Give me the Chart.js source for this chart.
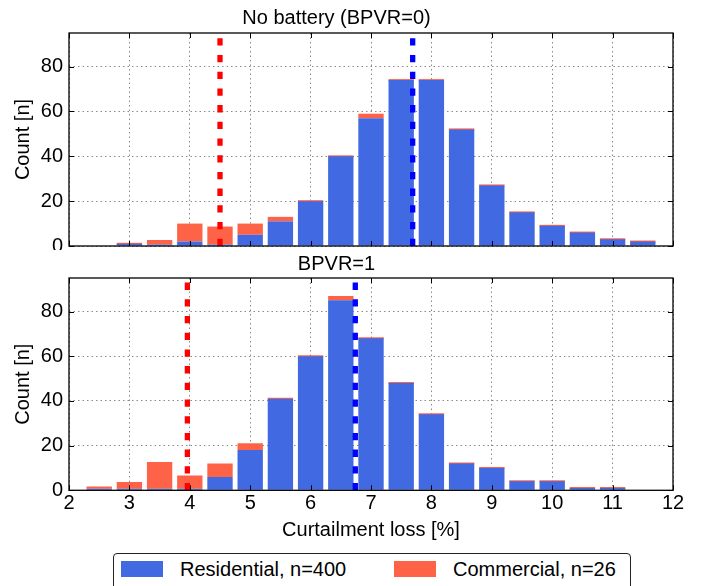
<!DOCTYPE html>
<html>
<head>
<meta charset="utf-8">
<script src="https://cdn.jsdelivr.net/npm/chart.js@4.4.1/dist/chart.umd.min.js"></script>
<style>
  body { margin: 0; background: #fff; }
  #wrap { position: relative; width: 702px; height: 586px; overflow: hidden; font-family: 'Liberation Sans', Arial, sans-serif; }
  canvas { position: absolute; left: 0; }
  #c1 { top: 0; }
  #c2 { top: 250px; }
  #legend { position: absolute; left: 113px; top: 553px; width: 516px; height: 50px; border: 1px solid #222; border-radius: 4px; background: #fff; }
  .sw { position: absolute; top: 7px; width: 42px; height: 16px; }
  .lt { position: absolute; top: 3px; font-size: 20px; line-height: 24px; color: #000; white-space: nowrap; }
</style>
</head>
<body>
<div id="wrap">
  <canvas id="c1" width="702" height="250"></canvas>
  <canvas id="c2" width="702" height="336"></canvas>
  <div id="legend">
    <span class="sw" style="left:7px;background:#4169E1"></span>
    <span class="lt" style="left:66px">Residential, n=400</span>
    <span class="sw" style="left:280px;background:#FF6347"></span>
    <span class="lt" style="left:339px">Commercial, n=26</span>
  </div>
</div>
<script>
// histogram bin centres [%]
const bins = [2.5, 3, 3.5, 4, 4.5, 5, 5.5, 6, 6.5, 7, 7.5, 8, 8.5, 9, 9.5, 10, 10.5, 11, 11.5];

// No battery (BPVR=0)
const resNoBat = [null, 1, 0, 2, 0, 5, 11, 20, 40, 57, 74, 74, 52, 27, 15, 9, 6, 3, 2];
const comNoBat = [null, 0, 2, 8, 8, 5, 2, 0, 0, 2, 0, 0, 0, 0, 0, 0, 0, 0, 0];
const meanResNoBat = 7.69;
const meanComNoBat = 4.50;

// BPVR=1
const resBat = [0, 0, 0, 0, 6, 18, 41, 60, 85, 68, 48, 34, 12, 10, 4, 4, 1, 1, null];
const comBat = [1, 3, 12, 6, 6, 3, 0, 0, 2, 0, 0, 0, 0, 0, 0, 0, 0, 0, null];
const meanResBat = 6.74;
const meanComBat = 3.96;

const xMin = 2, xMax = 12, yMax = 95;

const FONT = "'Liberation Sans', Arial, sans-serif";
const BLUE = '#4169E1';
const ORANGE = '#FF6347';

// box round the axes with inward tick marks
const framePlugin = {
    id: 'frame',
    afterDraw(chart) {
        const {ctx, chartArea: a, scales: {x, y}} = chart;
        ctx.save();
        ctx.strokeStyle = '#000';
        ctx.lineWidth = 1;
        ctx.beginPath();
        x.ticks.forEach(t => {
            const px = Math.round(x.getPixelForValue(t.value)) + 0.5;
            ctx.moveTo(px, a.bottom); ctx.lineTo(px, a.bottom - 5);
            ctx.moveTo(px, a.top); ctx.lineTo(px, a.top + 5);
        });
        y.ticks.forEach(t => {
            const py = Math.round(y.getPixelForValue(t.value)) + 0.5;
            ctx.moveTo(a.left, py); ctx.lineTo(a.left + 5, py);
            ctx.moveTo(a.right, py); ctx.lineTo(a.right - 5, py);
        });
        ctx.stroke();
        ctx.lineWidth = 1.3;
        ctx.strokeRect(a.left, a.top, a.right - a.left, a.bottom - a.top);
        ctx.restore();
    }
};

function meanLine(xv, color, stack){
    return {
        type: 'line',
        stack: stack,
        data: [{x: xv, y: 0}, {x: xv, y: yMax}],
        borderColor: color,
        borderWidth: 5.3,
        borderDash: [7.3, 9.4],
        pointRadius: 0,
        order: -1
    };
}

function makeChart(id, title, titlePad, res, com, meanRes, meanCom, bottomAxis, layoutPad){
    return new Chart(document.getElementById(id), {
        type: 'bar',
        data: {
            datasets: [
                meanLine(meanCom, '#ff0000', 'm1'),
                meanLine(meanRes, '#0000ff', 'm2'),
                {
                    label: 'Residential, n=400',
                    data: bins.map((b, i) => ({x: b, y: res[i]})),
                    backgroundColor: BLUE,
                    borderWidth: 0,
                    minBarLength: 1.5,
                    barPercentage: 0.84,
                    categoryPercentage: 1.0
                },
                {
                    label: 'Commercial, n=26',
                    data: bins.map((b, i) => ({x: b, y: com[i]})),
                    backgroundColor: ORANGE,
                    borderWidth: 0,
                    minBarLength: 2,
                    barPercentage: 0.84,
                    categoryPercentage: 1.0
                }
            ]
        },
        options: {
            responsive: false,
            animation: false,
            devicePixelRatio: 1,
            layout: {padding: layoutPad},
            plugins: {
                legend: {display: false},
                tooltip: {enabled: false},
                title: {
                    display: true,
                    text: title,
                    color: '#000',
                    font: {family: FONT, size: 20, weight: 'normal'},
                    padding: titlePad
                }
            },
            scales: {
                x: {
                    type: 'linear',
                    min: xMin,
                    max: xMax,
                    offset: false,
                    stacked: true,
                    grid: {offset: false, drawTicks: false, color: '#8a8a8a', lineWidth: 1},
                    border: {display: false, dash: [1.5, 3]},
                    ticks: {
                        display: bottomAxis,
                        stepSize: 1,
                        padding: 1.5,
                        color: '#000',
                        font: {family: FONT, size: 20}
                    },
                    title: {
                        display: bottomAxis,
                        text: 'Curtailment loss [%]',
                        color: '#000',
                        font: {family: FONT, size: 20},
                        padding: {top: 0, bottom: 0}
                    },
                    afterFit: function(scale){
                        scale.height = bottomAxis ? 52.5 : 0;
                        scale.paddingLeft = 0;
                        scale.paddingRight = 0;
                    }
                },
                y: {
                    stacked: true,
                    min: 0,
                    max: yMax,
                    grid: {drawTicks: false, color: '#8a8a8a', lineWidth: 1},
                    border: {display: false, dash: [1.5, 3]},
                    ticks: {
                        stepSize: 20,
                        includeBounds: false,
                        padding: 6,
                        color: '#000',
                        font: {family: FONT, size: 20}
                    },
                    title: {
                        display: true,
                        text: 'Count [n]',
                        color: '#000',
                        font: {family: FONT, size: 20},
                        padding: {top: 11, bottom: 0}
                    },
                    afterFit: function(scale){
                        scale.width = 69;
                        scale.paddingTop = 0;
                        scale.paddingBottom = 0;
                    }
                }
            }
        },
        plugins: [framePlugin]
    });
}

makeChart('c1', 'No battery (BPVR=0)', {top: 6.5, bottom: 2.5},
    resNoBat, comNoBat, meanResNoBat, meanComNoBat, false,
    {left: 0, right: 29, top: 0, bottom: 4});

makeChart('c2', 'BPVR=1', {top: 2.2, bottom: 1.8},
    resBat, comBat, meanResBat, meanComBat, true,
    {left: 0, right: 29, top: 0, bottom: 43.2});
</script>
</body>
</html>
